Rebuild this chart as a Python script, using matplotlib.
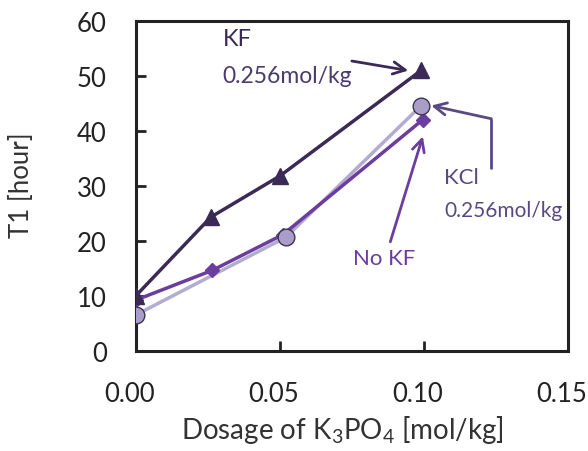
import numpy as np
import matplotlib.pyplot as plt
import matplotlib.transforms as mtransforms

plt.rcParams['font.family'] = ['Lato', 'DejaVu Sans']
plt.rcParams['mathtext.fontset'] = 'custom'
plt.rcParams['mathtext.rm'] = 'Lato'
plt.rcParams['mathtext.default'] = 'rm'

# data
x_kf = [0.000, 0.026, 0.050, 0.099]
y_kf = [10.0, 24.3, 31.8, 51.0]
x_kcl = [0.000, 0.052, 0.099]
y_kcl = [6.5, 20.6, 44.6]
x_nokf = [0.000, 0.0265, 0.051, 0.0995]
y_nokf = [9.2, 14.6, 21.1, 42.0]

c_kf = '#3b2a55'
c_kcl = '#a99dc9'
c_kcl_line = '#b4abd0'
c_nokf = '#6a3d9e'
c_kcl_txt = '#5a4a82'

fig = plt.figure(figsize=(5.88, 4.52), dpi=100)
ax = fig.add_axes([0.2313, 0.2223, 0.7347, 0.729])

ax.plot(x_kcl, y_kcl, color=c_kcl_line, lw=2.5, zorder=2)
ax.plot(x_kcl, y_kcl, 'o', ms=12, mfc=c_kcl, mec='#3d3550', mew=1, zorder=4)
ax.plot(x_nokf, y_nokf, color=c_nokf, lw=2.5, marker='D', ms=7, mfc=c_nokf, mec=c_nokf, zorder=3)
ax.plot(x_kf, y_kf, color=c_kf, lw=2.5, marker='^', ms=11, mfc=c_kf, mec=c_kf, zorder=3)

# annotations
ax.text(0.030, 56.8, 'KF', color=c_kf, fontsize=17, va='center', ha='left')
ax.text(0.030, 50.0, '0.256mol/kg', color='#4a3b6e', fontsize=16.5, va='center', ha='left')
ax.annotate('', xy=(0.0955, 50.9), xytext=(0.074, 52.8),
            arrowprops=dict(arrowstyle='->', color=c_kf, lw=2, mutation_scale=22))

ax.text(0.107, 31.6, 'KCl', color=c_kcl_txt, fontsize=16, va='center', ha='left')
ax.text(0.107, 25.6, '0.256mol/kg', color=c_kcl_txt, fontsize=15, va='center', ha='left')
ax.plot([0.1234, 0.1234], [33.1, 42.2], color=c_kcl_txt, lw=2, solid_capstyle='butt')
ax.annotate('', xy=(0.1025, 44.6), xytext=(0.1234, 42.2),
            arrowprops=dict(arrowstyle='->', color=c_kcl_txt, lw=2, mutation_scale=22,
                            shrinkA=0, shrinkB=0))

ax.text(0.0753, 16.8, 'No KF', color=c_nokf, fontsize=16, va='center', ha='left')
ax.annotate('', xy=(0.0996, 39.0), xytext=(0.0883, 19.8),
            arrowprops=dict(arrowstyle='->', color=c_nokf, lw=2, mutation_scale=22,
                            shrinkA=0, shrinkB=0))

ax.set_xlim(0, 0.15)
ax.set_ylim(0, 60)
ax.set_xticks([0.00, 0.05, 0.10, 0.15])
ax.set_xticklabels(['0.00', '0.05', '0.10', '0.15'])
ax.set_yticks(np.arange(0, 61, 10))
ax.tick_params(direction='in', length=7, width=2, labelsize=18.5, colors='#222222')
ax.tick_params(axis='y', pad=21)
ax.tick_params(axis='x', pad=22)
# x tick labels sit a little left of their ticks in the original
shift = mtransforms.ScaledTranslation(-6 / 100, 0, fig.dpi_scale_trans)
for lab in ax.get_xticklabels():
    lab.set_transform(lab.get_transform() + shift)
for s in ax.spines.values():
    s.set_linewidth(2.2)
    s.set_color('#222222')

ax.set_xlabel('Dosage of K$_3$PO$_4$ [mol/kg]', fontsize=20, color='#333333')
ax.xaxis.set_label_coords(0.477, -0.19)
ax.set_ylabel('T1 [hour]', fontsize=18.5, color='#333333')
ax.yaxis.set_label_coords(-0.236, 0.505)

fig.savefig('out.png', dpi=100)
